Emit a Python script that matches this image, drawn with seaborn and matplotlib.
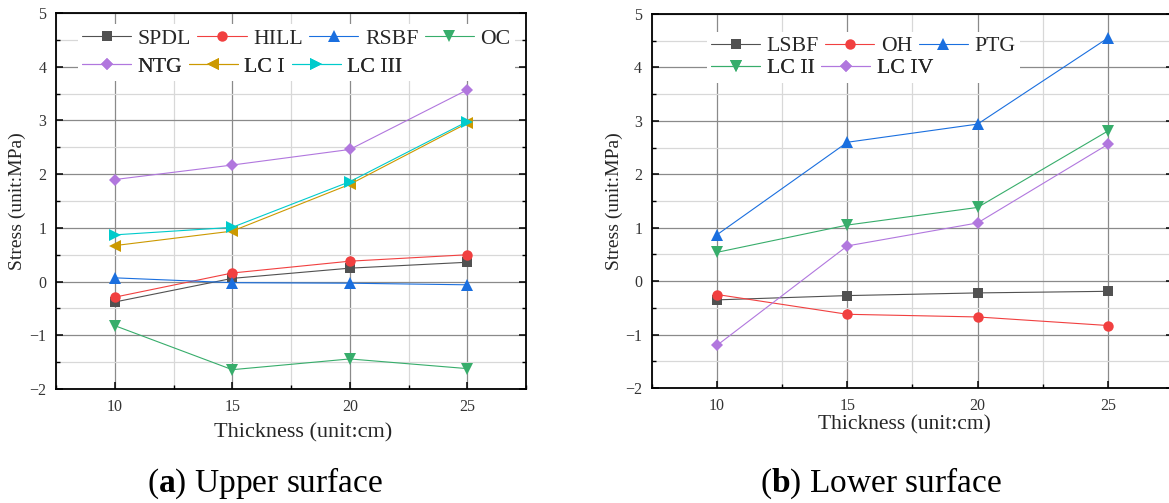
import matplotlib
matplotlib.use("Agg")
import matplotlib.pyplot as plt
import seaborn as sns
from matplotlib.patches import Rectangle
from matplotlib.transforms import Bbox
from matplotlib.ticker import MultipleLocator

# thickness values (cm)
thickness = [10, 15, 20, 25]

# (a) upper surface stress (MPa)
spdl = [-0.38, 0.06, 0.25, 0.36]
hill = [-0.29, 0.16, 0.38, 0.50]
rsbf = [0.07, -0.02, -0.03, -0.06]
oc = [-0.82, -1.64, -1.44, -1.62]
ntg = [1.90, 2.17, 2.46, 3.57]
lc1 = [0.67, 0.94, 1.81, 2.95]
lc3 = [0.87, 1.01, 1.86, 2.98]

# (b) lower surface stress (MPa)
lsbf = [-0.35, -0.27, -0.22, -0.19]
oh = [-0.25, -0.62, -0.67, -0.83]
ptg = [0.87, 2.60, 2.94, 4.55]
lc2 = [0.54, 1.05, 1.38, 2.81]
lc4 = [-1.20, 0.66, 1.09, 2.56]

upper = [("SPDL", spdl, "#515151", "s"), ("HILL", hill, "#F14040", "o"),
         ("RSBF", rsbf, "#1A6FDF", "^"), ("OC", oc, "#37AD6B", "v"),
         ("NTG", ntg, "#B177DE", "D"), ("LC I", lc1, "#CC9900", "<"),
         ("LC III", lc3, "#00CBCC", ">")]
lower = [("LSBF", lsbf, "#515151", "s"), ("OH", oh, "#F14040", "o"),
         ("PTG", ptg, "#1A6FDF", "^"), ("LC II", lc2, "#37AD6B", "v"),
         ("LC IV", lc4, "#B177DE", "D")]

sns.set_style("white")
plt.rcParams["font.family"] = ["Liberation Serif", "DejaVu Serif"]
plt.rcParams["mathtext.fontset"] = "custom"
plt.rcParams["mathtext.rm"] = "Liberation Serif"
plt.rcParams["mathtext.bf"] = "Liberation Serif:bold"

msize = {"s": 7, "o": 7.5, "^": 8, "v": 8, "D": 6.5, "<": 8, ">": 8}

fig = plt.figure(figsize=(11.69, 5.03), dpi=100)
ax1 = fig.add_axes([0.0479, 0.2266, 0.4021, 0.7475])
ax2 = fig.add_axes([0.5577, 0.2286, 0.4457, 0.7435])


def draw(ax, series, rows, legend_x, row_y, lab_fs, xlab_xy, ylab_x):
    for name, vals, col, mk in series:
        sns.lineplot(x=thickness, y=vals, color=col, marker=mk, markersize=msize[mk],
                     markeredgewidth=0, linewidth=0.8, label=name, ax=ax)
    ax.set_xlim(7.5, 27.5)
    ax.set_ylim(-2, 5)
    ax.xaxis.set_major_locator(MultipleLocator(5))
    ax.xaxis.set_minor_locator(MultipleLocator(2.5))
    ax.yaxis.set_major_locator(MultipleLocator(1))
    ax.yaxis.set_minor_locator(MultipleLocator(0.5))
    ax.set_axisbelow(True)
    ax.grid(which="major", color="#8a8a8a", linewidth=0.9)
    ax.grid(which="minor", color="#d8d8d8", linewidth=0.9)
    for sp in ax.spines.values():
        sp.set_color("black")
        sp.set_linewidth(1.3)
    ax.tick_params(which="both", direction="in", left=True, right=True, bottom=True,
                   top=False, colors="black", labelcolor="#333333", labelsize=11.5)
    ax.tick_params(which="major", length=5, width=1.1, pad=7)
    ax.tick_params(which="minor", length=3, width=1.0)
    ax.set_xlabel("Thickness (unit:cm)", fontsize=lab_fs)
    ax.set_ylabel("Stress (unit:MPa)", fontsize=14)
    ax.xaxis.label.set_va("center")
    ax.yaxis.label.set_va("center")
    ax.xaxis.set_label_coords(*xlab_xy)
    ax.yaxis.set_label_coords(ylab_x, 0.5)

    # one legend per row so entries flow like the original
    handles, labels = ax.get_legend_handles_labels()
    lookup = dict(zip(labels, handles))
    legends = []
    for names, y in zip(rows, row_y):
        leg = ax.legend([lookup[n] for n in names], names, ncol=len(names),
                        loc="center left", bbox_to_anchor=(legend_x, y), frameon=False,
                        prop={"family": "Liberation Serif", "size": 15.7},
                        handlelength=2.25, handletextpad=0.3, columnspacing=0.3,
                        borderpad=0.2, borderaxespad=0)
        ax.add_artist(leg)
        legends.append(leg)
    return legends


legs1 = draw(ax1, upper, [["SPDL", "HILL", "RSBF", "OC"], ["NTG", "LC I", "LC III"]],
             0.046, [0.931, 0.857], 16, (0.526, -0.117), -0.083)
legs2 = draw(ax2, lower, [["LSBF", "OH", "PTG"], ["LC II", "LC IV"]],
             0.105, [0.914, 0.855], 15.5, (0.484, -0.099), -0.073)

# white background behind both legend rows
fig.canvas.draw()
for ax, legs in [(ax1, legs1), (ax2, legs2)]:
    box = Bbox.union([lg.get_window_extent() for lg in legs])
    box = box.transformed(ax.transAxes.inverted())
    ax.add_patch(Rectangle((box.x0, box.y0), box.width, box.height, transform=ax.transAxes,
                           facecolor="white", edgecolor="none", zorder=4))

fig.text(265 / 1169, 1 - 483 / 503, r"($\mathbf{a}$) Upper surface", fontsize=24,
         ha="center", va="center", color="black")
fig.text(881 / 1169, 1 - 483 / 503, r"($\mathbf{b}$) Lower surface", fontsize=24,
         ha="center", va="center", color="black")

fig.savefig("out.png", dpi=100)
